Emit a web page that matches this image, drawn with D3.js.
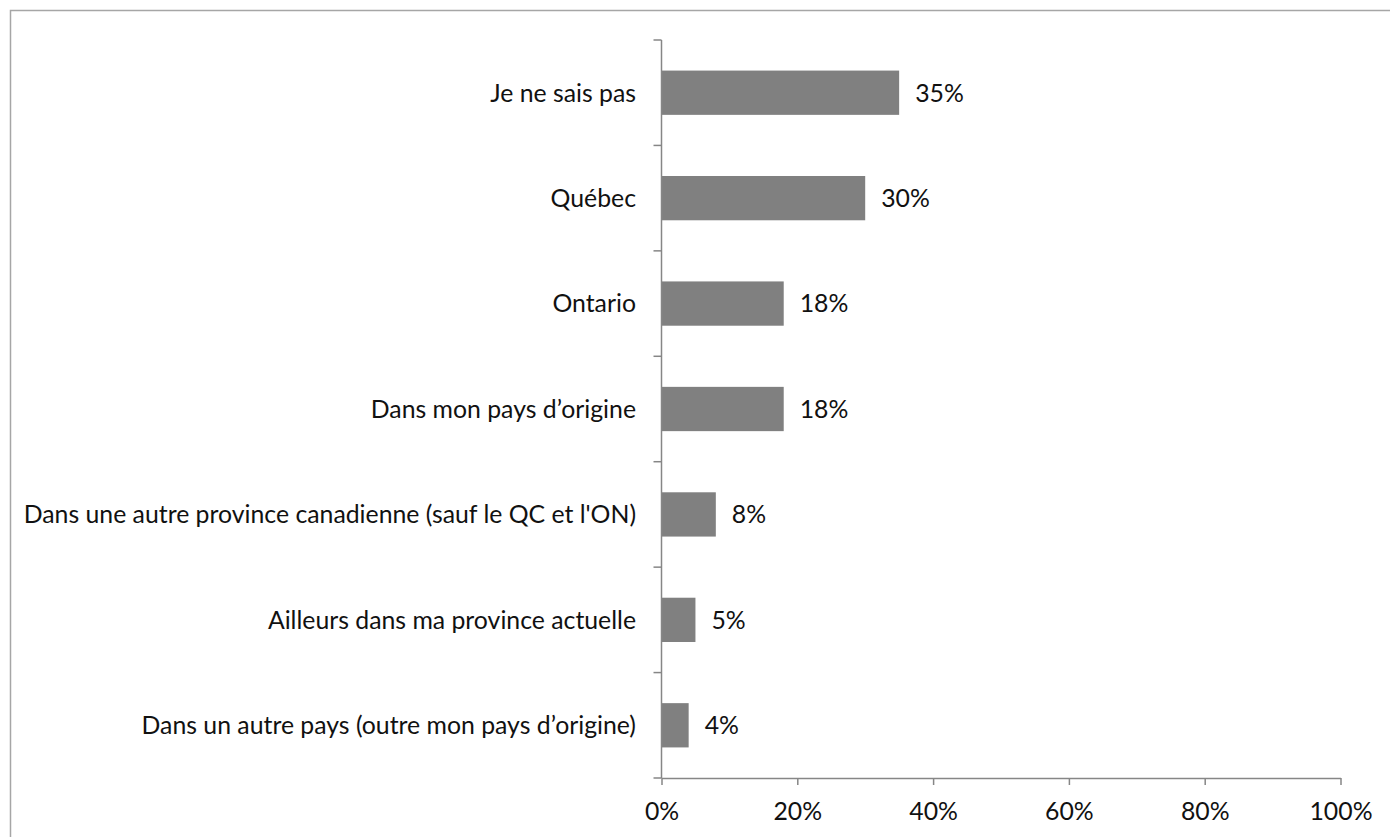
<!DOCTYPE html>
<html>
<head>
<meta charset="utf-8">
<script src="https://cdn.jsdelivr.net/npm/d3@7"></script>
<style>
  html, body { margin: 0; padding: 0; background: #fff; }
  svg { display: block; }
  text { font-family: Lato, "Open Sans", sans-serif; fill: #111; }
</style>
</head>
<body>
<svg id="chart" width="1390" height="837"></svg>
<script>
// Survey answers, top to bottom
const categories = [
  "Je ne sais pas",
  "Québec",
  "Ontario",
  "Dans mon pays d’origine",
  "Dans une autre province canadienne (sauf le QC et l'ON)",
  "Ailleurs dans ma province actuelle",
  "Dans un autre pays (outre mon pays d’origine)"
];
const values = [35, 30, 18, 18, 8, 5, 4];
const xTicks = [0, 20, 40, 60, 80, 100];

const svg = d3.select("#chart");
const axisColor = "#868686";
const fontSize = 24.8;

// chart frame
svg.append("rect")
  .attr("x", 10.5).attr("y", 10.5)
  .attr("width", 1400).attr("height", 860)
  .attr("fill", "none").attr("stroke", "#a6a6a6").attr("stroke-width", 1.5);

const x = d3.scaleLinear().domain([0, 100]).range([661.5, 1340.5]);
const y = d3.scaleBand().domain(categories).range([40, 778])
  .paddingInner(0.58).paddingOuter(0.29);

// bars
svg.append("g").selectAll("rect")
  .data(categories)
  .join("rect")
  .attr("x", x(0))
  .attr("y", d => y(d))
  .attr("width", (d, i) => x(values[i]) - x(0))
  .attr("height", y.bandwidth())
  .attr("fill", "#808080");

// value labels
svg.append("g").selectAll("text")
  .data(categories)
  .join("text")
  .attr("x", (d, i) => x(values[i]) + 16)
  .attr("y", d => y(d) + y.bandwidth() / 2)
  .attr("dy", "0.36em")
  .attr("font-size", fontSize)
  .text((d, i) => values[i] + "%");

// category labels
svg.append("g").selectAll("text")
  .data(categories)
  .join("text")
  .attr("x", 636)
  .attr("y", d => y(d) + y.bandwidth() / 2)
  .attr("dy", "0.36em")
  .attr("text-anchor", "end")
  .attr("font-size", fontSize)
  .text(d => d);

// vertical axis with ticks at the band boundaries
const [y0, y1] = y.range();
const bounds = categories.map(d => y(d) - y.step() * y.paddingInner() / 2);
bounds.push(y1);
const yAxis = svg.append("g");
yAxis.append("line")
  .attr("x1", x(0)).attr("x2", x(0))
  .attr("y1", y0).attr("y2", y1)
  .attr("stroke", axisColor).attr("stroke-width", 1.5);
yAxis.selectAll("line.tick")
  .data(bounds)
  .join("line")
  .attr("class", "tick")
  .attr("x1", x(0) - 8).attr("x2", x(0))
  .attr("y1", d => d).attr("y2", d => d)
  .attr("stroke", axisColor).attr("stroke-width", 1.5);

// horizontal axis
const xAxis = svg.append("g")
  .attr("transform", `translate(0,${y1})`)
  .call(d3.axisBottom(x).tickValues(xTicks).tickSize(7).tickSizeOuter(0)
    .tickFormat(d => d + "%"));
xAxis.select(".domain").attr("stroke", axisColor).attr("stroke-width", 1.5);
xAxis.selectAll(".tick line").attr("stroke", axisColor).attr("stroke-width", 1.5);
xAxis.selectAll(".tick text")
  .attr("font-size", fontSize)
  .attr("font-family", "Lato, 'Open Sans', sans-serif")
  .attr("fill", "#111")
  .attr("y", 0).attr("dy", 0)
  .attr("transform", "translate(0,42)");
</script>
</body>
</html>
